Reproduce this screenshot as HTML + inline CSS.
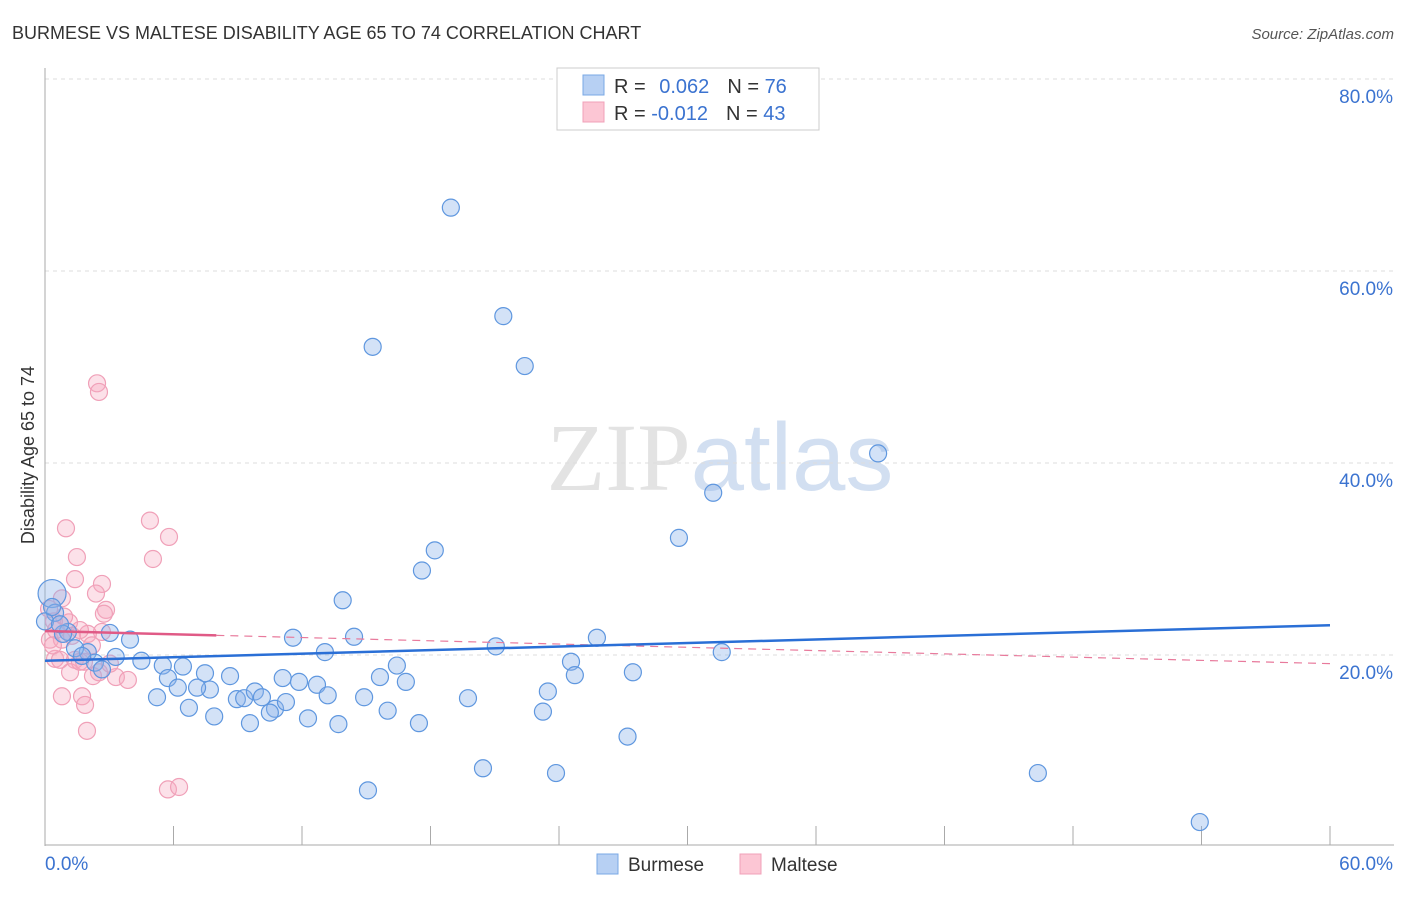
<!DOCTYPE html>
<html><head><meta charset="utf-8"><style>
body{margin:0;background:#fff;font-family:"Liberation Sans",sans-serif;}
svg text{font-family:"Liberation Sans",sans-serif;}
</style></head><body>
<svg id="chart" width="1406" height="892" xmlns="http://www.w3.org/2000/svg">
<text x="12" y="39" font-size="18" fill="#333">BURMESE VS MALTESE DISABILITY AGE 65 TO 74 CORRELATION CHART</text>
<text x="1394" y="39" font-size="15" fill="#555" text-anchor="end" font-style="italic">Source: ZipAtlas.com</text>
<text x="720" y="490" font-size="96" text-anchor="middle" fill="#ddd" opacity="0.8"><tspan font-family="Liberation Serif">ZIP</tspan><tspan fill="#c8d8ee">atlas</tspan></text>
<g id="grid"></g>
<g id="axes"></g>
<g id="marks"></g>
<text transform="translate(34,455) rotate(-90)" font-size="18" fill="#333" text-anchor="middle">Disability Age 65 to 74</text>
<g>
<rect x="557" y="68" width="262" height="62" fill="#fff" stroke="#ccc"/>
<rect x="583" y="75" width="21" height="20" fill="#b7d0f3" stroke="#7aa8e6"/>
<rect x="583" y="102" width="21" height="20" fill="#fcc6d4" stroke="#f0a0b8"/>
<text x="614" y="93" font-size="20" fill="#333">R = <tspan fill="#3b73d0" dx="8">0.062</tspan><tspan dx="18" fill="#333">N = </tspan><tspan fill="#3b73d0">76</tspan></text>
<text x="614" y="120" font-size="20" fill="#333">R = <tspan fill="#3b73d0">-0.012</tspan><tspan dx="18" fill="#333">N = </tspan><tspan fill="#3b73d0">43</tspan></text>
</g>
<g>
<rect x="597" y="854" width="21" height="20" fill="#b7d0f3" stroke="#7aa8e6"/>
<text x="628" y="871" font-size="19" fill="#333">Burmese</text>
<rect x="740" y="854" width="21" height="20" fill="#fcc6d4" stroke="#f0a0b8"/>
<text x="771" y="871" font-size="19" fill="#333">Maltese</text>
</g>
</svg>
<script>
const yTicks=[20,40,60,80];
const yTickLabels=["20.0%","40.0%","60.0%","80.0%"];
const xTickCount=10;
const burmeseX=[18.95,21.4,15.3,22.4,38.9,31.2,29.6,18.2,17.6,13.9,0.33,0.47,0,3.03,3.97,1.07,11.58,14.43,25.77,21.05,13.07,31.6,2.0,3.3,4.5,5.5,6.44,7.47,8.64,16.43,24.56,24.74,27.45,5.74,6.2,7.7,7.1,11.1,11.86,12.7,15.64,16.85,5.23,6.72,7.9,8.96,9.3,9.8,10.13,10.74,11.25,12.28,13.2,14.9,16.0,13.7,9.57,10.5,17.46,19.75,23.48,23.25,27.2,20.45,23.86,15.08,46.36,53.92,2.33,2.66,1.4,0.84,1.73,0.33,0.7];
const burmeseY=[66.6,55.3,52.1,50.1,41.0,36.9,32.2,30.9,28.8,25.7,26.4,24.4,23.5,22.3,21.6,22.4,21.8,21.9,21.8,20.9,20.3,20.3,20.3,19.8,19.4,18.9,18.8,18.1,17.8,18.9,19.3,17.9,18.2,17.6,16.6,16.4,16.6,17.6,17.2,16.9,17.7,17.2,15.6,14.5,13.6,15.4,15.5,16.2,15.6,14.4,15.1,13.4,15.8,15.6,14.2,12.8,12.9,14.0,12.9,15.5,16.2,14.1,11.5,8.2,7.7,5.9,7.7,2.6,19.2,18.5,20.7,22.2,19.9,25.0,23.2];
const malteseX=[2.43,2.52,0.98,4.9,5.79,1.49,5.04,1.4,2.66,2.38,0.79,2.85,2.75,2.66,2.0,1.12,0.42,0.23,0.51,0.79,1.26,1.63,0.47,1.4,0.7,1.82,1.17,2.24,3.31,3.87,2.52,0.79,1.73,1.87,1.96,5.74,6.26,0.37,0.89,0.19,2.19,1.63,3.03];
const malteseY=[48.3,47.4,33.2,34.0,32.3,30.2,30.0,27.9,27.4,26.4,25.9,24.7,24.3,22.4,22.2,23.4,23.5,21.6,22.6,21.6,22.0,22.6,19.6,19.5,19.5,19.3,18.2,17.8,17.7,17.4,18.2,15.7,15.7,14.8,12.1,6.0,6.25,21.0,24.0,24.8,21.0,19.3,19.1];
const burmeseTrend=[19.4,23.1];
const malteseTrend=[22.5,19.1];
const malteseSolidEnd=8;

const X0=45,X1=1330,Y0=847,PX=9.6;
const sx=v=>X0+(X1-X0)*v/60;
const sy=v=>Y0-v*PX;
const NS="http://www.w3.org/2000/svg";
function mk(tag,attrs,parent){const e=document.createElementNS(NS,tag);for(const k in attrs)e.setAttribute(k,attrs[k]);parent.appendChild(e);return e;}
const grid=document.getElementById('grid'),axes=document.getElementById('axes'),marks=document.getElementById('marks');
yTicks.forEach((t,i)=>{
 const l=mk('line',{x1:45,x2:1394,y1:sy(t),y2:sy(t),stroke:'#ddd','stroke-dasharray':'4,4'},grid);
 
 
 const tx=mk('text',{x:1393,y:sy(t)+24,'font-size':19,fill:'#3b73d0','text-anchor':'end'},axes);
 tx.textContent=yTickLabels[i];
 
 
});
const ya=mk('line',{x1:45,x2:45,y1:68,y2:846,stroke:'#aaa'},axes);


const xa=mk('line',{x1:45,x2:1394,y1:845,y2:845,stroke:'#aaa'},axes);


for(let i=1;i<=xTickCount;i++){
 const v=60*i/xTickCount;
 const t=mk('line',{x1:sx(v),x2:sx(v),y1:826,y2:845,stroke:'#aaa'},axes);
 
 
}
const xl0=mk('text',{x:45,y:870,'font-size':19,fill:'#3b73d0'},axes);xl0.textContent='0.0%';


const xl1=mk('text',{x:1393,y:870,'font-size':19,fill:'#3b73d0','text-anchor':'end'},axes);xl1.textContent='60.0%';



malteseX.forEach((x,i)=>{
 const c=mk('circle',{cx:sx(x),cy:sy(malteseY[i]),r:8.5,fill:'rgba(246,170,192,0.35)',stroke:'#f0a0b8','stroke-width':1.2},marks);
 
 
});
burmeseX.forEach((x,i)=>{
 const c=mk('circle',{cx:sx(x),cy:sy(burmeseY[i]),r:i===10?14:8.5,fill:'rgba(140,180,235,0.38)',stroke:'#5f97df','stroke-width':1.2},marks);
 
 
});
const mAt=v=>malteseTrend[0]+(malteseTrend[1]-malteseTrend[0])*v/60;
const md=mk('line',{x1:sx(malteseSolidEnd),y1:sy(mAt(malteseSolidEnd)),x2:sx(60),y2:sy(malteseTrend[1]),stroke:'#e87a9c','stroke-width':1.2,'stroke-dasharray':'8,6'},marks);


const ms=mk('line',{x1:sx(0),y1:sy(malteseTrend[0]),x2:sx(malteseSolidEnd),y2:sy(mAt(malteseSolidEnd)),stroke:'#e05a86','stroke-width':2.5},marks);


const bt=mk('line',{x1:sx(0),y1:sy(burmeseTrend[0]),x2:sx(60),y2:sy(burmeseTrend[1]),stroke:'#2a6fd6','stroke-width':2.5},marks);


</script>
</body></html>
